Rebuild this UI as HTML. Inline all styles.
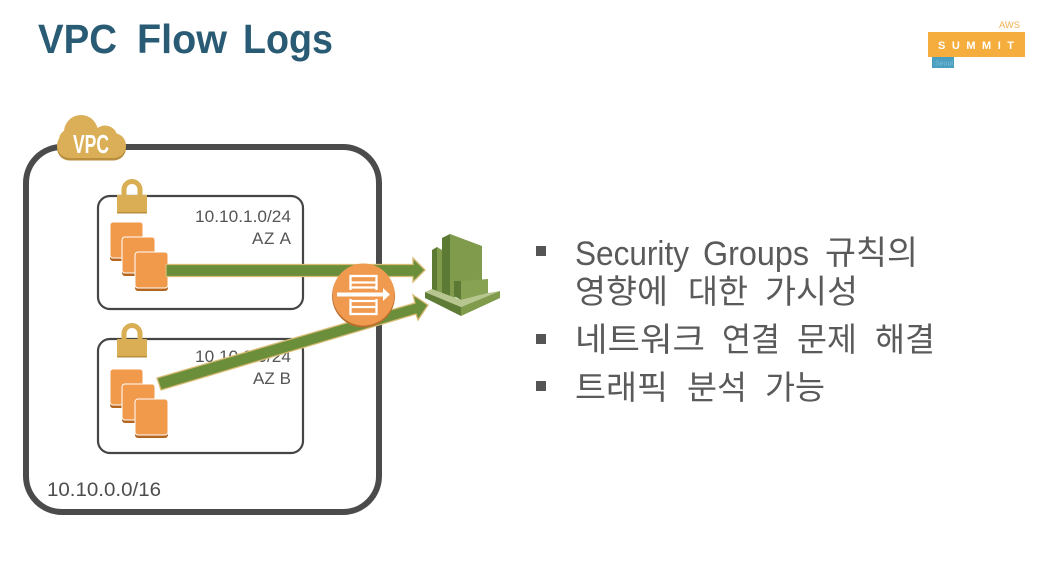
<!DOCTYPE html>
<html lang="ko">
<head>
<meta charset="utf-8">
<title>VPC Flow Logs</title>
<style>
html,body{margin:0;padding:0;background:#fff;width:1052px;height:576px;overflow:hidden}
svg{display:block}
text{font-family:"Liberation Sans","Noto Sans CJK KR",sans-serif}
</style>
</head>
<body>
<svg width="1052" height="576" viewBox="0 0 1052 576" xmlns="http://www.w3.org/2000/svg">
<defs>
<g id="sq">
<rect x="0" y="3" width="33" height="36" rx="3" fill="#b5651d"/>
<rect x="0" y="0" width="33" height="36" rx="3" fill="#f19a4c" stroke="#fff" stroke-width="1"/>
</g>
<g id="lock">
<path d="M-8 1V-5.500a8 8 0 0 1 16 0V1" fill="none" stroke="#d9ae55" stroke-width="5"/>
<rect x="-15" y="0" width="30" height="18" fill="#d9ae55"/>
<rect x="-15" y="17" width="30" height="1.500" fill="#b98f3f"/>
</g>
<g id="cloud">
<circle cx="81" cy="132" r="17"/>
<circle cx="105" cy="138" r="12.500"/>
<circle cx="70" cy="140" r="11"/>
<rect x="57" y="133" width="69" height="25" rx="12.500"/>
</g>
</defs>

<rect width="1052" height="576" fill="#fff"/>

<!-- Title -->
<g font-size="41" font-weight="bold" fill="#2a5b74">
<text x="38" y="53" textLength="79" lengthAdjust="spacingAndGlyphs">VPC</text>
<text x="137" y="53" textLength="90" lengthAdjust="spacingAndGlyphs">Flow</text>
<text x="243" y="53" textLength="90" lengthAdjust="spacingAndGlyphs">Logs</text>
</g>

<!-- Summit logo -->
<text x="999" y="28" font-size="9" fill="#f2b04e" textLength="21" lengthAdjust="spacingAndGlyphs">AWS</text>
<rect x="928" y="32" width="97" height="25" fill="#f5ae3d"/>
<text x="938" y="49" font-size="11" font-weight="bold" fill="#fff" textLength="76" lengthAdjust="spacing">SUMMIT</text>
<rect x="932" y="57" width="22" height="11" fill="#4a9fc0"/>
<text x="935" y="65.500" font-size="7" fill="#7cbdd5">Seoul</text>

<!-- VPC box -->
<rect x="26" y="147" width="353" height="365" rx="36" fill="none" stroke="#4b4b4b" stroke-width="6"/>

<!-- VPC cloud -->
<use href="#cloud" y="2.500" fill="#b98f3f"/>
<use href="#cloud" fill="#dbaf58"/>
<text x="73" y="153" font-size="26" font-weight="bold" fill="#fff" textLength="36" lengthAdjust="spacingAndGlyphs">VPC</text>

<!-- Subnet A -->
<rect x="98" y="196" width="205" height="113" rx="12" fill="#fff" stroke="#454545" stroke-width="2.200"/>
<use href="#lock" x="132" y="195"/>
<text x="195" y="222" font-size="17" fill="#555" textLength="96" lengthAdjust="spacingAndGlyphs">10.10.1.0/24</text>
<text x="252" y="244" font-size="17" fill="#555" textLength="39" lengthAdjust="spacing">AZ A</text>
<use href="#sq" x="110" y="222"/>
<use href="#sq" x="122" y="237"/>
<use href="#sq" x="135" y="252"/>

<!-- Subnet B -->
<rect x="98" y="339" width="205" height="114" rx="12" fill="#fff" stroke="#454545" stroke-width="2.200"/>
<use href="#lock" x="132" y="339"/>
<text x="195" y="362" font-size="17" fill="#555" textLength="96" lengthAdjust="spacingAndGlyphs">10.10.2.0/24</text>
<text x="253" y="384" font-size="17" fill="#555" textLength="38" lengthAdjust="spacing">AZ B</text>
<use href="#sq" x="110" y="369"/>
<use href="#sq" x="122" y="384"/>
<use href="#sq" x="135" y="399"/>

<!-- CIDR -->
<text x="47" y="496" font-size="19" fill="#4d4d4d" textLength="114" lengthAdjust="spacingAndGlyphs">10.10.0.0/16</text>

<!-- Arrows -->
<polygon points="166,264.500 413,264.500 413,258 425,270 413,282 413,276.500 166,276.500" fill="#6b8e3a" stroke="#d8bb72" stroke-width="1.300"/>
<polygon points="157,378 415,303 413,295 428,305 418,320 416,314 161,390" fill="#6b8e3a" stroke="#d8bb72" stroke-width="1.300"/>

<!-- Flow logs circle -->
<circle cx="363.500" cy="296" r="31.500" fill="#b96f2e"/>
<circle cx="363.500" cy="294.500" r="31" fill="#f09a50"/>
<g fill="none" stroke="#fff" stroke-width="2.300">
<rect x="350.500" y="276" width="26" height="38"/>
<path d="M350 282.500H377M350 287.500H377M350 301H377M350 307H377"/>
</g>
<rect x="345" y="290" width="38" height="9" fill="#f09a50"/>
<rect x="337" y="292.500" width="47" height="4" fill="#fff"/>
<polygon points="383,288 390,294.500 383,301" fill="#fff"/>

<!-- CloudWatch icon -->
<polygon points="432,250 437,247 437,292 432,292" fill="#5d7a34"/>
<polygon points="437,247 442,250 442,294 437,294" fill="#7f9b4b"/>
<polygon points="442,238 450,234 450,298 442,298" fill="#5d7a34"/>
<polygon points="450,234 482,246 482,294 450,298" fill="#7f9b4b"/>
<polygon points="425,292 432,289 461,300 488,293 500,291 461,307" fill="#b7c68f"/>
<polygon points="425,292 461,307 461,316 425,298" fill="#5f7c36"/>
<polygon points="461,307 500,291 500,298 461,316" fill="#7f9b4b"/>
<polygon points="454,281 461,281 461,300 454,296" fill="#5d7a34"/>
<polygon points="461,281 488,279 488,293 461,300" fill="#87a253"/>

<!-- Bullets -->
<rect x="536" y="246" width="10" height="10" fill="#555"/>
<rect x="536" y="334" width="10" height="10" fill="#555"/>
<rect x="536" y="381" width="10" height="10" fill="#555"/>

<g font-size="33" fill="#5a5a5a">
<text x="575" y="265" font-size="34" textLength="114" lengthAdjust="spacingAndGlyphs">Security</text>
<text x="703" y="265" font-size="34" textLength="106" lengthAdjust="spacingAndGlyphs">Groups</text>
<text x="825" y="264" textLength="93" lengthAdjust="spacingAndGlyphs">규칙의</text>
<text x="575" y="303" textLength="93" lengthAdjust="spacingAndGlyphs">영향에</text>
<text x="688" y="303" textLength="60" lengthAdjust="spacingAndGlyphs">대한</text>
<text x="765" y="303" textLength="93" lengthAdjust="spacingAndGlyphs">가시성</text>
<text x="575" y="351" textLength="130" lengthAdjust="spacingAndGlyphs">네트워크</text>
<text x="722" y="351" textLength="58" lengthAdjust="spacingAndGlyphs">연결</text>
<text x="797" y="351" textLength="60" lengthAdjust="spacingAndGlyphs">문제</text>
<text x="875" y="351" textLength="60" lengthAdjust="spacingAndGlyphs">해결</text>
<text x="575" y="399" textLength="93" lengthAdjust="spacingAndGlyphs">트래픽</text>
<text x="687" y="399" textLength="60" lengthAdjust="spacingAndGlyphs">분석</text>
<text x="765" y="399" textLength="60" lengthAdjust="spacingAndGlyphs">가능</text>
</g>
</svg>
</body>
</html>
